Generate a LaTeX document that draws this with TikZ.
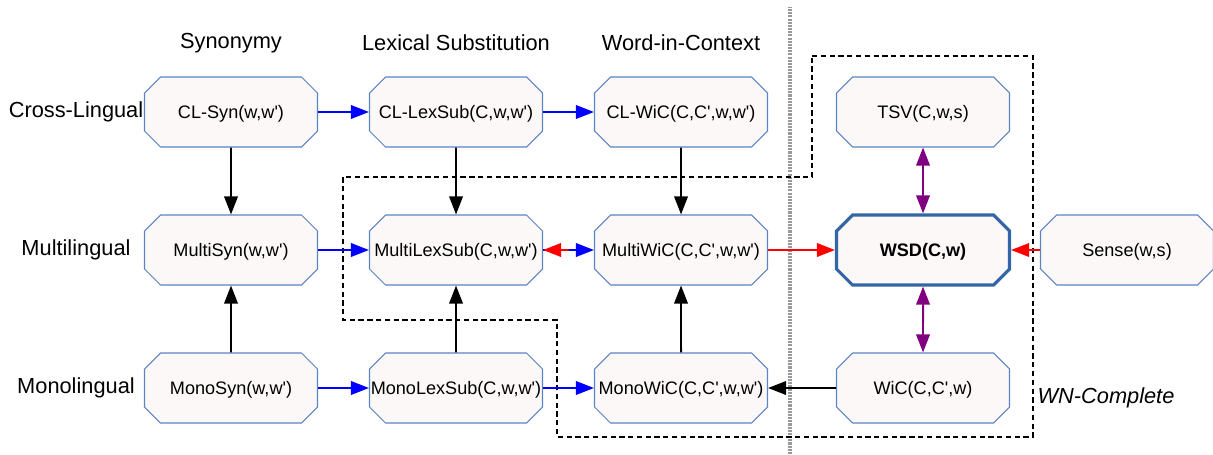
\documentclass[tikz,border=0pt]{standalone}
\usepackage{fontspec}
\setmainfont{Liberation Sans}[Ligatures=TeXOff]
\usetikzlibrary{shapes.misc,arrows.meta,calc}
\definecolor{taskfill}{HTML}{FCF8F8}
\definecolor{taskline}{HTML}{5B84C4}
\definecolor{wsdline}{HTML}{3465A4}
\definecolor{relpurple}{HTML}{800080}

\begin{document}
\begin{tikzpicture}[
    task/.style={chamfered rectangle, chamfered rectangle xsep=0.16cm, chamfered rectangle ysep=0.16cm,
      draw=taskline, line width=0.6pt, fill=taskfill, inner sep=0pt, font=\fontsize{10.3}{12}\selectfont,
      execute at begin node=\hbox to 3.14cm\bgroup\hss,
      execute at end node=\hss\rule[-0.41cm]{0pt}{1.08cm}\egroup},
    wsd/.style={task, draw=wsdline, line width=1.8pt, font=\fontsize{10.3}{12}\selectfont\bfseries},
    lbl/.style={font=\fontsize{12.4}{14}\selectfont},
    link/.style={line width=1.1pt, -{Triangle[length=0.36cm,width=0.27cm]}},
    both/.style={line width=1.1pt, {Triangle[length=0.36cm,width=0.27cm]}-{Triangle[length=0.36cm,width=0.27cm]}}
  ]
        \useasboundingbox (0,0) rectangle (24.26,9.08);
        % Separator
        \draw[gray!80, line width=2pt, dash pattern=on 1.2pt off 0.6pt] (15.8,0) -- (15.8,8.95);
        % WN-Complete region
        \draw[line width=1pt, dash pattern=on 3pt off 2pt] (16.24,7.96) -- (20.66,7.96) -- (20.66,0.34) -- (11.14,0.34)
          -- (11.14,2.68) -- (6.86,2.68) -- (6.86,5.54) -- (16.24,5.54) -- cycle;
        \node[lbl, font=\fontsize{12.4}{14}\selectfont\itshape] (wncomplete) at (22.12,1.12) {WN-Complete};
        % Headers
        \node[lbl] (synonymy) at (4.62,8.22) {Synonymy};
        \node[lbl] (lexsub) at (9.12,8.22) {Lexical Substitution};
        \node[lbl] (wordctx) at (13.62,8.22) {Word-in-Context};
        \node[lbl] (crossling) at (1.52,6.84) {Cross-Lingual};
        \node[lbl] (multiling) at (1.52,4.08) {Multilingual};
        \node[lbl] (monoling) at (1.52,1.32) {Monolingual};
        % Tasks
        \node[task] (clsyn) at (4.62,6.84) {CL-Syn(w,w')};
        \node[task] (cllexsub) at (9.12,6.84) {CL-LexSub(C,w,w')};
        \node[task] (clwic) at (13.62,6.84) {CL-WiC(C,C',w,w')};
        \node[task] (tsv) at (18.46,6.84) {TSV(C,w,s)};
        \node[task] (multisyn) at (4.62,4.08) {MultiSyn(w,w')};
        \node[task] (multilexsub) at (9.12,4.08) {MultiLexSub(C,w,w')};
        \node[task] (multiwic) at (13.62,4.08) {MultiWiC(C,C',w,w')};
        \node[wsd] (wsdtask) at (18.46,4.08) {WSD(C,w)};
        \node[task] (sense) at (22.54,4.08) {Sense(w,s)};
        \node[task] (monosyn) at (4.62,1.32) {MonoSyn(w,w')};
        \node[task] (monolexsub) at (9.12,1.32) {MonoLexSub(C,w,w')};
        \node[task] (monowic) at (13.62,1.32) {MonoWiC(C,C',w,w')};
        \node[task] (wic) at (18.46,1.32) {WiC(C,C',w)};
        % Blue links
        \draw[link, blue] (clsyn) -- (cllexsub);
        \draw[link, blue] (cllexsub) -- (clwic);
        \draw[link, blue] (multisyn) -- (multilexsub);
        \draw[link, blue] (monosyn) -- (monolexsub);
        \draw[link, blue] (monolexsub) -- (monowic);
        \draw[link, blue] (multilexsub) -- (multiwic);
        \coordinate (midlex) at ($(multilexsub.east)!0.5!(multiwic.west)$);
        % Red links
        \draw[link, red] (midlex) -- (multilexsub);
        \draw[link, red] (multiwic) -- (wsdtask);
        \draw[link, red] (sense) -- (wsdtask);
        % Black links
        \draw[link] (clsyn) -- (multisyn);
        \draw[link] (monosyn) -- (multisyn);
        \draw[link] (cllexsub) -- (multilexsub);
        \draw[link] (monolexsub) -- (multilexsub);
        \draw[link] (clwic) -- (multiwic);
        \draw[link] (monowic) -- (multiwic);
        \draw[link] (wic) -- (monowic);
        % Purple links
        \draw[both, relpurple] (tsv) -- (wsdtask);
        \draw[both, relpurple] (wsdtask) -- (wic);
    \end{tikzpicture}
\end{document}
